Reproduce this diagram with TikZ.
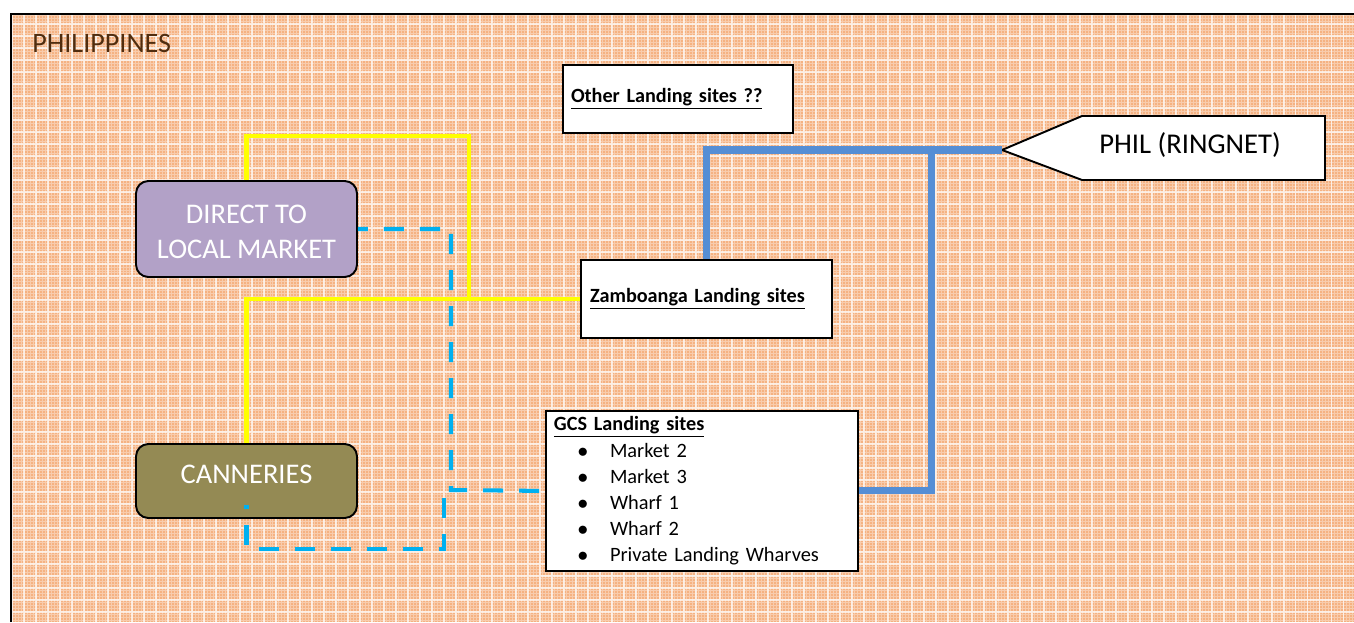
\documentclass[tikz,border=0pt]{standalone}
\usepackage{fontspec}
\setmainfont{Carlito}
\definecolor{bgorange}{RGB}{245,178,130}
\definecolor{titlebrown}{RGB}{80,45,15}
\definecolor{dlmpurple}{RGB}{178,161,199}
\definecolor{canolive}{RGB}{148,138,84}
\definecolor{linkyellow}{RGB}{255,255,0}
\definecolor{linkcyan}{RGB}{0,176,240}
\definecolor{linkblue}{RGB}{85,142,213}
\tikzset{
  x=0.02cm, y=-0.02cm,
  roundbox/.style={draw=black, line width=1.1pt, rounded corners=7pt, text=white,
    minimum width=4.42cm, inner sep=0pt, align=center, font=\fontsize{16.2pt}{20pt}\selectfont},
  whitebox/.style={draw=black, line width=1.1pt, fill=white, inner ysep=0pt, align=left},
  boldtitle/.style={font=\bfseries\fontsize{11.5pt}{14pt}\selectfont},
  yellowlink/.style={draw=linkyellow, line width=2.3pt},
  cyanlink/.style={draw=linkcyan, line width=2.3pt, dash pattern=on 11.4pt off 9.1pt},
  bluelink/.style={draw=linkblue, line width=4pt},
}
\newcommand{\gcsitem}[1]{\hspace*{16.5pt}\makebox[0pt]{$\bullet$}\hspace*{15.4pt}#1}
\begin{document}
\begin{tikzpicture}
\useasboundingbox (0,0) rectangle (1354,622);
% background
\fill[bgorange] (11,622) rectangle (1354,14);
\begin{scope}
  \clip (11,622) rectangle (1354,14);
  \draw[white, opacity=0.35, line width=0.5pt, step=0.06cm] (11,622) grid (1354,14);
  \draw[white, opacity=0.7, line width=0.8pt, step=0.24cm] (11,622) grid (1354,14);
\end{scope}
\draw[black, line width=1.1pt] (11,622) -- (11,14) -- (1354,14);

\node[anchor=base west, inner sep=0pt, text=titlebrown, font=\fontsize{16pt}{19pt}\selectfont] (title) at (32,52) {PHILIPPINES};

% nodes
\node[roundbox, fill=dlmpurple, minimum height=1.92cm] (dlm) at (246.5,229)
  {\raisebox{-2.6pt}[\height][\depth]{\begin{tabular}{@{}c@{}}DIRECT TO\\LOCAL MARKET\end{tabular}}};
\node[roundbox, fill=canolive, minimum height=1.48cm] (can) at (246.5,481)
  {\raisebox{4pt}[\height][\depth]{CANNERIES}};
\node[whitebox, boldtitle, minimum width=4.6cm, minimum height=1.36cm, inner xsep=0.16cm, text width=4.28cm] (other) at (678,99) {\underline{Other Landing sites ??}};
\node[whitebox, boldtitle, minimum width=5.02cm, minimum height=1.56cm, inner xsep=0.18cm, text width=4.66cm] (zam) at (706.5,299) {\underline{Zamboanga Landing sites}};
\node[whitebox, anchor=north west, minimum width=6.24cm, minimum height=3.2cm, inner xsep=0.16cm, text width=5.92cm,
  font=\fontsize{11.6pt}{14.9pt}\selectfont] (gcs) at (545,410)
  {{\bfseries\fontsize{11.5pt}{14.9pt}\selectfont\underline{GCS Landing sites}}\\
   \gcsitem{Market 2}\\
   \gcsitem{Market 3}\\
   \gcsitem{Wharf 1}\\
   \gcsitem{Wharf 2}\\
   \gcsitem{Private Landing Wharves}};

% PHIL (RINGNET) pointer
\draw[line width=1.1pt, fill=white] (1002,150) -- (1082,116) -- (1325,116) -- (1325,180) -- (1082,180) -- cycle;
\coordinate (philtip) at (1002,150);
\node[font=\fontsize{16.3pt}{19pt}\selectfont] (phil) at (1190,145) {PHIL (RINGNET)};

% helper coordinates
\coordinate (ytop) at (469,136);
\coordinate (yjoin) at (469,299);
\coordinate (bj) at (931,150);
\coordinate (cin) at (246.5,505);
\coordinate (cb) at (246.5,549);
\coordinate (dj) at (444,495);

% yellow links
\draw[yellowlink] (dlm.north) |- (ytop) -- (yjoin);
\draw[yellowlink] (can.north) |- (zam.west);

% blue solid links
\draw[bluelink] (philtip) -| (zam.north);
\draw[bluelink] (bj) |- (gcs.east);

% cyan dashed links
\draw[cyanlink, dash phase=5.7pt] (dlm.east) -| (451,490) -- (gcs.west);
\draw[cyanlink, dash phase=9.1pt] (cin) -- (cb) -| (dj);
\end{tikzpicture}
\end{document}
